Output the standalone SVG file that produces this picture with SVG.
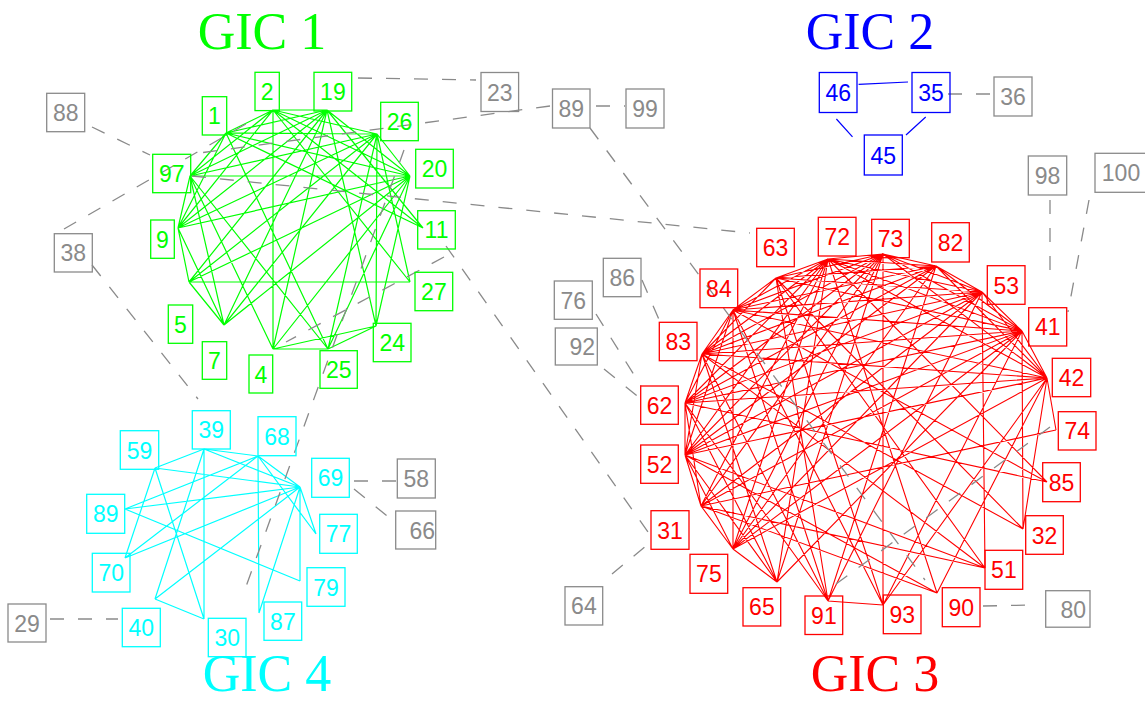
<svg xmlns="http://www.w3.org/2000/svg" width="1145" height="702" viewBox="0 0 1145 702">
<style>
  rect { fill: none; stroke-width: 1.3; }
  text.lab { font-family: "Liberation Sans", Arial, sans-serif; font-size: 23px; text-anchor: middle; }
  text.end { text-anchor: end; }
  text.title { font-family: "Liberation Serif", "Times New Roman", serif; font-size: 52px; text-anchor: middle; }
  .g rect { stroke: #00ff00; } .g text { fill: #00ff00; }
  .c rect { stroke: #00ffff; } .c text { fill: #00ffff; }
  .r rect { stroke: #ff0000; } .r text { fill: #ff0000; }
  .b rect { stroke: #0000ff; } .b text { fill: #0000ff; }
  .k rect { stroke: #8a8a8a; } .k text { fill: #8a8a8a; }
  path.eg { stroke: #00ff00; stroke-width: 1.2; fill: none; }
  path.ec { stroke: #00ffff; stroke-width: 1.2; fill: none; }
  path.er { stroke: #ff0000; stroke-width: 1.1; fill: none; }
  path.eb { stroke: #0000ff; stroke-width: 1.2; fill: none; }
  path.dash { stroke: #8a8a8a; stroke-width: 1.3; fill: none; stroke-dasharray: 14 14; }
</style>
<rect x="0" y="0" width="1145" height="702" fill="#ffffff" stroke="none"/>

<!-- cluster titles -->
<g id="titles">
  <text class="title" x="262" y="49" fill="#00ff00">GIC 1</text>
  <text class="title" x="870" y="49" fill="#0000ff">GIC 2</text>
  <text class="title" x="875" y="691" fill="#ff0000">GIC 3</text>
  <text class="title" x="267" y="691" fill="#00ffff">GIC 4</text>
</g>

<!-- connectors -->
<g id="connectors">
  <!-- GIC 1 edges -->
  <path class="eg" d="M273 110L327 110M273 110L226 133M273 110L190 176M273 110L178 228M273 110L273 349M273 110L377 134M273 110L410 176M273 110L423 228M273 110L410 282
  M327 110L226 133M327 110L190 176M327 110L178 228M327 110L189 282M327 110L410 176M327 110L423 228M327 110L376 326M327 110L273 349M327 110L224 325
  M226 133L377 134M226 133L410 176M226 133L423 228M226 133L190 176M226 133L178 228M226 133L328 349
  M377 134L190 176M377 134L178 228M377 134L189 282M377 134L410 176M377 134L376 326M377 134L328 349M377 134L224 325M377 134L410 282
  M190 176L410 176M190 176L178 228M190 176L224 325M190 176L273 349M190 176L328 349
  M410 176L178 228M410 176L189 282M410 176L328 349M410 176L376 326M410 176L273 349M410 176L224 325
  M178 228L189 282M178 228L224 325M189 282L224 325M189 282L410 282
  M273 349L328 349M273 349L376 326M328 349L376 326"/>
  <!-- GIC 4 edges -->
  <path class="ec" d="M155 468L204 449M204 449L258 456M204 449L300 487M204 449L204 619M204 449L155 599
  M155 468L300 487M155 468L125 558M155 468L204 619
  M258 456L125 509M258 456L125 558M258 456L259 613M258 456L316 534M258 456L300 487
  M125 509L300 487M125 509L300 581M125 558L300 487M155 599L300 487M155 599L204 619
  M300 487L316 534M300 487L300 581M300 487L259 613"/>
  <!-- GIC 2 edges -->
  <path class="eb" d="M858.6 84.3L908 82M836.4 119L852.5 136.8M925.7 117L906 135"/>
  <!-- GIC 3 edges -->
  <path class="er" d="M776 278L828 259M776 278L883 254M776 278L936 266M776 278L733 310M776 278L702 354M776 278L982 292M776 278L1022 331M776 278L985 568M776 278L1023 529M776 278L828 601M776 278L883 605
  M828 259L883 254M828 259L936 266M828 259L982 292M828 259L1022 331M828 259L1047 378M828 259L733 310M828 259L702 354M828 259L685 403M828 259L685 455M828 259L701 506M828 259L777 582M828 259L937 593M828 259L1047 482M828 259L733 549
  M883 254L936 266M883 254L982 292M883 254L1022 331M883 254L1047 378M883 254L733 310M883 254L702 354M883 254L685 403M883 254L685 455M883 254L701 506M883 254L883 605M883 254L777 582M883 254L733 549
  M936 266L982 292M936 266L1022 331M936 266L1047 378M936 266L733 310M936 266L702 354M936 266L685 403M936 266L685 455M936 266L828 601M936 266L733 549
  M982 292L1022 331M982 292L1047 378M982 292L733 310M982 292L702 354M982 292L685 403M982 292L685 455M982 292L985 568M982 292L701 506M982 292L828 601M982 292L733 549
  M1022 331L1047 378M1022 331L733 310M1022 331L702 354M1022 331L685 403M1022 331L685 455M1022 331L1023 529M1022 331L701 506M1022 331L733 549M1022 331L777 582M1022 331L883 605
  M1047 378L1056 430M1047 378L733 310M1047 378L702 354M1047 378L685 403M1047 378L685 455M1047 378L1023 529M1047 378L937 593M1047 378L733 549M1047 378L883 605
  M733 310L702 354M733 310L685 403M733 310L685 455M733 310L733 549M733 310L1047 482M733 310L828 601M733 310L883 605
  M702 354L685 403M702 354L685 455M702 354L1023 529M702 354L777 582M702 354L828 601M702 354L985 568
  M685 403L685 455M685 403L701 506M685 403L777 582M685 403L828 601M685 403L1047 482
  M685 455L701 506M685 455L985 568M685 455L937 593M685 455L733 549M685 455L777 582
  M701 506L733 549M701 506L985 568M701 506L937 593M701 506L1056 430
  M733 549L777 582M828 601L883 605"/>
  <!-- links between clusters and to unassigned nodes -->
  <path class="dash" d="M358 78L476 80"/>
  <path class="dash" d="M92 127L150 155"/>
  <path class="dash" d="M64 229L258 117"/>
  <path class="dash" d="M550 106L192 154"/>
  <path class="dash" d="M596 106L625 106"/>
  <path class="dash" d="M590 128L925 580"/>
  <path class="dash" d="M642 280L660 322"/>
  <path class="dash" d="M596 314L641 386"/>
  <path class="dash" d="M604 369L641 399"/>
  <path class="dash" d="M446 246L648 532"/>
  <path class="dash" d="M612 574L652 541"/>
  <path class="dash" d="M983 606L1035 605"/>
  <path class="dash" d="M1050 200L1050 282"/>
  <path class="dash" d="M1089 200L1068 312"/>
  <path class="dash" d="M948 94L992 94"/>
  <path class="dash" d="M354 481L396 481"/>
  <path class="dash" d="M354 489L392 520"/>
  <path class="dash" d="M50 619L118 619"/>
  <path class="dash" d="M92 265L198 399"/>
  <path class="dash" d="M404 150L244 592"/>
  <path class="dash" d="M444 257L286 342"/>
  <path class="dash" d="M836 584L1050 427"/>
  <path class="dash" d="M192 176L750 233"/>
</g>

<!-- GIC 1 nodes -->
<g id="n2" class="g"><rect x="255" y="72.3" width="24.3" height="38.3"/><text class="lab" x="267.2" y="100">2</text></g>
<g id="n19" class="g"><rect x="314" y="72.3" width="37.7" height="38.7"/><text class="lab" x="332.9" y="100.2">19</text></g>
<g id="n1" class="g"><rect x="202.3" y="96.7" width="24.4" height="38.3"/><text class="lab" x="214.5" y="124.4">1</text></g>
<g id="n26" class="g"><rect x="380.7" y="102.3" width="37.6" height="38.4"/><text class="lab" x="399.5" y="130">26</text></g>
<g id="n97" class="g"><rect x="152.7" y="154.3" width="38" height="38.4"/><text class="lab" x="171.7" y="182">97</text></g>
<g id="n20" class="g"><rect x="415.7" y="149.3" width="37.6" height="38.7"/><text class="lab" x="434.5" y="177.2">20</text></g>
<g id="n9" class="g"><rect x="150.7" y="220" width="23.6" height="38.3"/><text class="lab" x="162.5" y="247.7">9</text></g>
<g id="n11" class="g"><rect x="417.7" y="210.7" width="37.6" height="38.3"/><text class="lab" x="436.5" y="238.4">11</text></g>
<g id="n27" class="g"><rect x="415" y="272.3" width="37.7" height="38.4"/><text class="lab" x="433.9" y="300">27</text></g>
<g id="n5" class="g"><rect x="168.3" y="305" width="24.4" height="38.3"/><text class="lab" x="180.5" y="332.7">5</text></g>
<g id="n7" class="g"><rect x="202.3" y="341.7" width="24.4" height="37.6"/><text class="lab" x="214.5" y="369">7</text></g>
<g id="n24" class="g"><rect x="373.3" y="323.3" width="37.7" height="38.4"/><text class="lab" x="392.2" y="351">24</text></g>
<g id="n4" class="g"><rect x="249" y="355" width="23.7" height="38"/><text class="lab" x="260.9" y="382.5">4</text></g>
<g id="n25" class="g"><rect x="320" y="350.7" width="37.3" height="37.6"/><text class="lab" x="338.7" y="378">25</text></g>

<!-- GIC 4 nodes -->
<g id="n59" class="c"><rect x="120.3" y="430.7" width="38.4" height="38.6"/><text class="lab" x="139.5" y="458.5">59</text></g>
<g id="n39" class="c"><rect x="192.3" y="410.7" width="38" height="38.3"/><text class="lab" x="211.3" y="438.4">39</text></g>
<g id="n68" class="c"><rect x="258" y="416.7" width="38" height="39"/><text class="lab" x="277" y="444.7">68</text></g>
<g id="n69" class="c"><rect x="311.7" y="458.3" width="37.6" height="39"/><text class="lab" x="330.5" y="486.3">69</text></g>
<g id="n89c" class="c"><rect x="86.7" y="494.3" width="38" height="39"/><text class="lab" x="105.7" y="522.3">89</text></g>
<g id="n77" class="c"><rect x="319.7" y="514.3" width="37.6" height="39"/><text class="lab" x="338.5" y="542.3">77</text></g>
<g id="n70" class="c"><rect x="92.3" y="553.3" width="37.7" height="38.7"/><text class="lab" x="111.2" y="581.2">70</text></g>
<g id="n79" class="c"><rect x="307" y="567.7" width="38" height="38.6"/><text class="lab" x="326" y="595.5">79</text></g>
<g id="n40" class="c"><rect x="122.3" y="608.3" width="38" height="38.4"/><text class="lab" x="141.3" y="636">40</text></g>
<g id="n30" class="c"><rect x="208.3" y="618.3" width="37.7" height="38.4"/><text class="lab" x="227.2" y="646">30</text></g>
<g id="n87" class="c"><rect x="264" y="602" width="37.7" height="38.3"/><text class="lab" x="282.9" y="629.7">87</text></g>

<!-- GIC 2 nodes -->
<g id="n46" class="b"><rect x="819.3" y="72.5" width="37.7" height="40"/><text class="lab" x="838.2" y="101">46</text></g>
<g id="n35" class="b"><rect x="912" y="72.5" width="38" height="40"/><text class="lab" x="931" y="101">35</text></g>
<g id="n45" class="b"><rect x="864.3" y="135" width="38" height="40"/><text class="lab" x="883.3" y="163.5">45</text></g>

<!-- GIC 3 nodes -->
<g id="n63" class="r"><rect x="756.7" y="228.3" width="37.6" height="38.4"/><text class="lab" x="775.5" y="256">63</text></g>
<g id="n72" class="r"><rect x="818.3" y="217.3" width="37.7" height="38.7"/><text class="lab" x="837.2" y="245.2">72</text></g>
<g id="n73" class="r"><rect x="871.7" y="219.3" width="37.6" height="38.4"/><text class="lab" x="890.5" y="247">73</text></g>
<g id="n82" class="r"><rect x="931.7" y="222.7" width="37.6" height="39.3"/><text class="lab" x="950.5" y="250.9">82</text></g>
<g id="n53" class="r"><rect x="987.3" y="265.7" width="37.7" height="38.6"/><text class="lab" x="1006.2" y="293.5">53</text></g>
<g id="n41" class="r"><rect x="1028.7" y="307.7" width="38" height="38.3"/><text class="lab" x="1047.7" y="335.4">41</text></g>
<g id="n42" class="r"><rect x="1052.3" y="358.3" width="38.4" height="38.4"/><text class="lab" x="1071.5" y="386">42</text></g>
<g id="n74" class="r"><rect x="1058.3" y="411.7" width="37.7" height="38.3"/><text class="lab" x="1077.2" y="439.4">74</text></g>
<g id="n85" class="r"><rect x="1042.7" y="462.7" width="37.6" height="39"/><text class="lab" x="1061.5" y="490.7">85</text></g>
<g id="n32" class="r"><rect x="1025.7" y="515.7" width="37.6" height="38.6"/><text class="lab" x="1044.5" y="543.5">32</text></g>
<g id="n51" class="r"><rect x="985" y="550.3" width="37.7" height="39"/><text class="lab" x="1003.9" y="578.3">51</text></g>
<g id="n90" class="r"><rect x="942.3" y="587.7" width="37.7" height="39"/><text class="lab" x="961.2" y="615.7">90</text></g>
<g id="n93" class="r"><rect x="883.3" y="595" width="37.7" height="38.7"/><text class="lab" x="902.2" y="622.9">93</text></g>
<g id="n91" class="r"><rect x="805" y="596" width="37.7" height="38.5"/><text class="lab" x="823.9" y="623.8">91</text></g>
<g id="n65" class="r"><rect x="743" y="587.7" width="37.7" height="38.3"/><text class="lab" x="761.9" y="615.4">65</text></g>
<g id="n75" class="r"><rect x="690" y="554.3" width="37.7" height="39"/><text class="lab" x="708.9" y="582.3">75</text></g>
<g id="n31" class="r"><rect x="651" y="510.7" width="38" height="38.6"/><text class="lab" x="670" y="538.5">31</text></g>
<g id="n52" class="r"><rect x="640.7" y="445" width="37.6" height="38.3"/><text class="lab" x="659.5" y="472.7">52</text></g>
<g id="n62" class="r"><rect x="640.7" y="386" width="37.6" height="38.3"/><text class="lab" x="659.5" y="413.7">62</text></g>
<g id="n83" class="r"><rect x="659.3" y="322.3" width="37.7" height="38.4"/><text class="lab" x="678.2" y="350">83</text></g>
<g id="n84" class="r"><rect x="700" y="269" width="37.7" height="38.7"/><text class="lab" x="718.9" y="296.9">84</text></g>

<!-- unassigned nodes -->
<g id="n88" class="k"><rect x="46.7" y="93.3" width="38" height="38.4"/><text class="lab" x="65.7" y="121">88</text></g>
<g id="n38" class="k"><rect x="54.3" y="233.7" width="38" height="38.3"/><text class="lab" x="73.3" y="261.4">38</text></g>
<g id="n23" class="k"><rect x="481" y="72.5" width="37.6" height="39"/><text class="lab" x="499.8" y="100.5">23</text></g>
<g id="n89" class="k"><rect x="552.5" y="89" width="37.5" height="39"/><text class="lab" x="571.3" y="117">89</text></g>
<g id="n99" class="k"><rect x="626" y="89" width="38" height="39"/><text class="lab" x="645" y="117">99</text></g>
<g id="n36" class="k"><rect x="994" y="77" width="38" height="39"/><text class="lab" x="1013" y="105">36</text></g>
<g id="n98" class="k"><rect x="1028.3" y="156" width="38.4" height="39"/><text class="lab" x="1047.5" y="184">98</text></g>
<g id="n100" class="k"><rect x="1095" y="153.3" width="52" height="39"/><text class="lab" x="1121" y="181.3">100</text></g>
<g id="n86" class="k"><rect x="603.3" y="258.3" width="37.7" height="38.4"/><text class="lab" x="622.2" y="286">86</text></g>
<g id="n76" class="k"><rect x="554.3" y="281" width="38" height="38.3"/><text class="lab" x="573.3" y="308.7">76</text></g>
<g id="n92" class="k"><rect x="555.3" y="328" width="42" height="37"/><text class="lab end" x="595" y="355">92</text></g>
<g id="n64" class="k"><rect x="565" y="586.7" width="37.7" height="38.3"/><text class="lab" x="583.9" y="614.4">64</text></g>
<g id="n80" class="k"><rect x="1045.7" y="590.7" width="44.3" height="36.5"/><text class="lab end" x="1086" y="617.5">80</text></g>
<g id="n58" class="k"><rect x="397.3" y="459" width="38" height="39"/><text class="lab" x="416.3" y="487">58</text></g>
<g id="n66" class="k"><rect x="395.7" y="511" width="40" height="38"/><text class="lab end" x="435" y="538.5">66</text></g>
<g id="n29" class="k"><rect x="8" y="604" width="38" height="38"/><text class="lab" x="27" y="631.5">29</text></g>
</svg>
